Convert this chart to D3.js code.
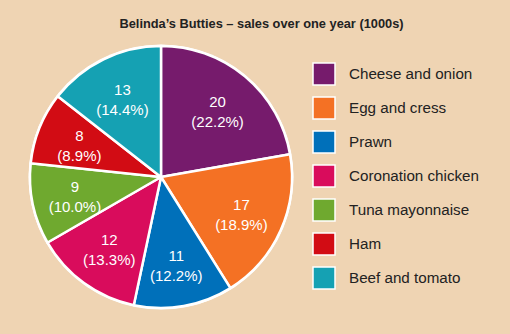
<!DOCTYPE html>
<html><head><meta charset="utf-8">
<script src="https://cdn.jsdelivr.net/npm/d3@7"></script>
<style>html,body{margin:0;padding:0;background:#efd4b3;}</style>
</head><body>
<svg id="c" width="510" height="334"></svg>
<script>
const categories = ["Cheese and onion","Egg and cress","Prawn","Coronation chicken","Tuna mayonnaise","Ham","Beef and tomato"];
const values = [20,17,11,12,9,8,13];
const colors = ["#761b6c","#f47124","#0070ba","#d90c5c","#6fa92f","#d20c14","#15a1b3"];
const title = "Belinda\u2019s Butties \u2013 sales over one year (1000s)";

const svg = d3.select("#c");
svg.append("rect").attr("width",510).attr("height",334).attr("fill","#efd4b3");
svg.append("text").attr("x",261.5).attr("y",28).attr("text-anchor","middle")
  .attr("font-family","Liberation Sans, Arial, sans-serif").attr("font-weight","bold")
  .attr("font-size",12.8).attr("fill","#222").text(title);

const total = d3.sum(values);
const cx=161, cy=177, r=131;
const pie = d3.pie().sort(null).value(d=>d.v);
const data = pie(categories.map((c,i)=>({c, v:values[i], col:colors[i]})));
const arc = d3.arc().innerRadius(0).outerRadius(r);
const labelArc = d3.arc().innerRadius(88).outerRadius(88);
const g = svg.append("g").attr("transform",`translate(${cx},${cy})`);
g.append("circle").attr("r",r+1.5).attr("fill","#fff");
g.selectAll("path").data(data).join("path").attr("d",arc).attr("fill",d=>d.data.col)
  .attr("stroke","#fff").attr("stroke-width",2.5).attr("stroke-linejoin","round");
const lab = g.selectAll("text.l").data(data).join("text").attr("class","l")
  .attr("transform",d=>`translate(${labelArc.centroid(d)})`)
  .attr("text-anchor","middle").attr("fill","#fff")
  .attr("font-family","Liberation Sans, Arial, sans-serif").attr("font-size",15);
lab.append("tspan").attr("x",0).attr("y",-3).text(d=>d.data.v);
lab.append("tspan").attr("x",0).attr("y",17).text(d=>"("+(d.data.v/total*100).toFixed(1)+"%)");

const lg = svg.append("g");
const rows = lg.selectAll("g").data(categories).join("g")
  .attr("transform",(d,i)=>`translate(313,${63+i*34})`);
rows.append("rect").attr("x",0).attr("y",0).attr("width",22).attr("height",22)
  .attr("fill",(d,i)=>colors[i]).attr("stroke","#fff").attr("stroke-width",1.5);
rows.append("text").attr("x",36).attr("y",16).attr("fill","#222")
  .attr("font-family","Liberation Sans, Arial, sans-serif").attr("font-size",15.2).text(d=>d);
</script>
</body></html>
